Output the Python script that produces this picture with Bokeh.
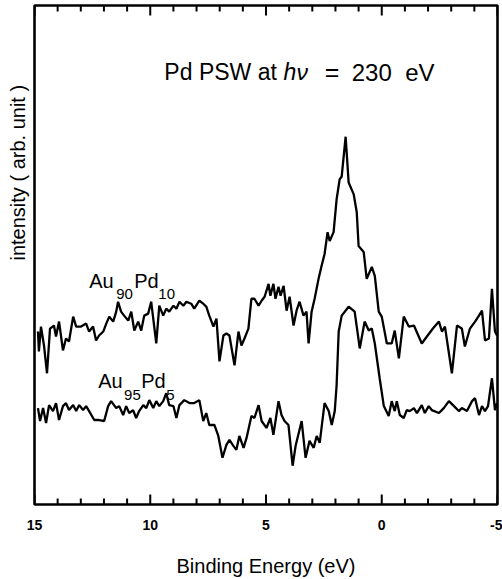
from bokeh.plotting import figure
from bokeh.models import Range1d, FixedTicker, Title
from bokeh.embed import file_html
from bokeh.resources import INLINE
from bokeh.core.properties import value

# Binding energy (eV) and intensity (arb. unit)
energy_90 = [14.85, 14.81, 14.72, 14.59, 14.46, 14.33, 14.16, 14.07, 13.94, 13.77, 13.64, 13.51,
             13.33, 13.20, 12.99, 12.77, 12.64, 12.47, 12.34, 12.21, 12.03, 11.90, 11.77, 11.60,
             11.47, 11.39, 11.26, 11.13, 10.95, 10.82, 10.69, 10.52, 10.39, 10.26, 10.09, 9.96,
             9.74, 9.61, 9.44, 9.31, 9.18, 9.00, 8.87, 8.74, 8.57, 8.44, 8.23, 8.10, 7.88, 7.71,
             7.58, 7.45, 7.27, 7.14, 7.01, 6.84, 6.71, 6.58, 6.36, 6.19, 6.06, 5.93, 5.76, 5.63,
             5.50, 5.32, 5.19, 5.06, 4.89, 4.81, 4.68, 4.59, 4.46, 4.37, 4.24, 4.11, 3.98, 3.81,
             3.68, 3.55, 3.38, 3.25, 3.16, 3.03, 2.90, 2.73, 2.60, 2.47, 2.34, 2.25, 2.08, 1.95,
             1.82, 1.73, 1.56, 1.43, 1.21, 1.08, 1.00, 0.78, 0.65, 0.43, 0.30, 0.13, 0.00, -0.22,
             -0.43, -0.56, -0.74, -0.95, -1.17, -1.39, -1.73, -1.95, -2.21, -2.47, -2.60, -2.73,
             -3.03, -3.25, -3.46, -3.59, -3.81, -4.03, -4.20, -4.33, -4.46, -4.63, -4.76, -4.89,
             -4.98]
intensity_90 = [1.74, 1.54, 1.79, 1.60, 1.32, 1.77, 1.80, 1.69, 1.84, 1.55, 1.67, 1.64,
                1.89, 1.79, 1.79, 1.82, 1.74, 1.79, 1.65, 1.70, 1.74, 1.82, 1.89, 1.84,
                1.94, 2.04, 1.94, 1.90, 1.85, 1.94, 1.75, 1.84, 1.75, 1.90, 1.92, 2.04,
                1.62, 2.00, 1.90, 1.97, 1.94, 2.00, 1.97, 2.04, 2.00, 2.04, 2.02, 1.97, 2.05, 2.02,
                1.99, 1.90, 1.79, 1.87, 1.44, 1.70, 1.72, 1.70, 1.40, 1.74, 1.60, 1.67, 1.77, 2.07,
                2.07, 2.00, 2.05, 2.09, 2.22, 2.10, 2.22, 2.07, 2.19, 2.10, 2.20, 1.95, 2.09, 1.80,
                1.95, 2.04, 1.90, 1.94, 1.62, 1.94, 2.07, 2.27, 2.40, 2.52, 2.74, 2.65, 2.74, 3.07,
                3.27, 3.30, 3.70, 3.24, 3.12, 2.94, 2.60, 2.54, 2.27, 2.39, 2.30, 1.94, 1.89, 1.62,
                1.62, 1.75, 1.47, 1.89, 1.79, 1.80, 1.62, 1.69, 1.77, 1.84, 1.74, 1.79,
                1.32, 1.80, 1.77, 1.59, 1.77, 1.84, 1.90, 1.95, 1.65, 1.67, 2.17, 1.74,
                1.70]

energy_95 = [14.85, 14.76, 14.63, 14.50, 14.37, 14.20, 14.07, 13.94, 13.77, 13.64, 13.51, 13.33,
             13.20, 13.07, 12.90, 12.77, 12.64, 12.42, 12.21, 11.99, 11.82, 11.69, 11.47, 11.34,
             11.17, 11.04, 10.91, 10.74, 10.61, 10.48, 10.30, 10.17, 10.04, 9.87, 9.74, 9.61,
             9.44, 9.31, 9.18, 9.00, 8.87, 8.74, 8.53, 8.31, 8.10, 7.88, 7.71, 7.58, 7.45, 7.23,
             7.06, 6.88, 6.71, 6.58, 6.41, 6.28, 6.15, 5.97, 5.84, 5.63, 5.50, 5.32, 5.19, 4.98,
             4.81, 4.68, 4.46, 4.33, 4.20, 4.03, 3.85, 3.72, 3.46, 3.29, 3.12, 2.94, 2.81, 2.68,
             2.47, 2.29, 2.16, 2.03, 1.95, 1.86, 1.73, 1.43, 1.17, 0.95, 0.74, 0.56, 0.43, 0.30,
             0.09, -0.09, -0.30, -0.43, -0.56, -0.65, -0.78, -0.95, -1.08, -1.21, -1.39, -1.52,
             -1.73, -1.86, -2.03, -2.16, -2.47, -2.68, -2.90, -3.12, -3.33, -3.46, -3.68, -3.90,
             -4.03, -4.20, -4.33, -4.46, -4.59, -4.76, -4.89, -4.98]
intensity_95 = [0.97, 0.84, 0.97, 0.82, 1.00, 0.94, 1.02, 0.85, 0.99, 1.02, 0.95, 1.00,
                0.94, 1.00, 0.95, 0.99, 0.94, 0.85, 0.85, 0.84, 0.99, 1.04, 0.97, 0.99,
                0.90, 0.99, 0.92, 0.95, 0.87, 0.94, 1.00, 0.97, 1.05, 0.97, 1.04, 0.99,
                1.04, 1.12, 1.00, 0.99, 0.87, 1.00, 1.05, 1.02, 1.02, 1.05, 0.84, 0.92, 0.80, 0.80,
                0.69, 0.47, 0.60, 0.65, 0.59, 0.55, 0.69, 0.57, 0.67, 0.89, 0.87, 1.00, 0.84, 0.77,
                0.87, 0.70, 1.04, 0.90, 0.84, 0.80, 0.39, 0.59, 0.84, 0.47, 0.64, 0.57, 0.69, 0.62,
                1.02, 0.94, 0.80, 0.94, 1.20, 1.74, 1.90, 1.99, 1.94, 1.57, 1.84, 1.75, 1.77, 1.62,
                1.27, 0.99, 0.89, 1.04, 0.94, 1.04, 0.90, 0.87, 0.95, 0.94, 0.97, 0.92,
                1.00, 0.92, 0.99, 0.95, 0.92, 0.97, 1.04, 0.99, 0.94, 0.97, 0.94, 1.04,
                1.07, 0.90, 0.99, 0.94, 0.99, 1.27, 0.95, 1.02]

major_ticks = [15, 10, 5, 0, -5]
minor_ticks = [t for t in range(-5, 16) if t % 5 != 0]
tick_labels = {15: "15", 10: "10", 5: "5", 0: "0", -5: "-5"}

FONT = "Liberation Sans"
Y_LO, Y_HI = 0.0, 5.02
MAJOR_LEN, MINOR_LEN = 0.10, 0.06   # inward tick lengths (intensity units)

p = figure(width=502, height=579, output_backend="svg", toolbar_location=None,
           x_range=Range1d(15, -5), y_range=Range1d(Y_LO, Y_HI),
           min_border_left=34, min_border_right=5, min_border_top=5, min_border_bottom=72)
p.background_fill_color = "white"
p.border_fill_color = "white"
p.grid.visible = False
p.outline_line_color = "black"
p.outline_line_width = 2.6
p.yaxis.visible = False

xa = p.xaxis[0]
xa.ticker = FixedTicker(ticks=major_ticks)
xa.axis_line_color = None
xa.major_tick_line_color = None
xa.minor_tick_line_color = None
xa.major_label_overrides = tick_labels
xa.major_label_text_font = FONT
xa.major_label_text_font_style = "bold"
xa.major_label_text_font_size = "14px"
xa.major_label_text_color = "black"
xa.major_label_standoff = 9
xa.axis_label = "Binding Energy (eV)"
xa.axis_label_text_font = FONT
xa.axis_label_text_font_style = "normal"
xa.axis_label_text_font_size = "20px"
xa.axis_label_text_color = "black"
xa.axis_label_standoff = 22

# y axis title, placed like the reference (upper part of the left side)
ytitle = Title(text="intensity ( arb. unit )", align="left", offset=244, standoff=8,
               vertical_align="top", text_font=FONT, text_font_size="20px",
               text_font_style="normal", text_color="black")
p.add_layout(ytitle, "left")

# inward ticks on bottom and top edges
for ticks, length in ((major_ticks, MAJOR_LEN), (minor_ticks, MINOR_LEN)):
    n = len(ticks)
    p.segment(x0=ticks, x1=ticks, y0=[Y_LO] * n, y1=[Y_LO + length] * n,
              line_color="black", line_width=2)
    p.segment(x0=ticks, x1=ticks, y0=[Y_HI] * n, y1=[Y_HI - length] * n,
              line_color="black", line_width=2)

p.line(energy_90, intensity_90, line_color="black", line_width=2.3)
p.line(energy_95, intensity_95, line_color="black", line_width=2.3)

def txt(x, y, s, size, style="normal", align="left"):
    p.text(x=[x], y=[y], text=[s], text_font=value(FONT), text_font_size=size,
           text_font_style=style, text_align=align, text_baseline="alphabetic",
           text_color="black")

# title inside the plot
txt(9.39, 4.35, "Pd PSW at", "23px")
txt(4.24, 4.35, "hν", "23px", style="italic")
txt(2.15, 4.35, "=", "25px", align="center")
txt(0.43, 4.35, "230", "24px", align="center")
txt(-1.65, 4.35, "eV", "24px", align="center")

# series labels
txt(12.64, 2.25, "Au", "20px")
txt(11.47, 2.12, "90", "15px")
txt(10.69, 2.25, "Pd", "20px")
txt(9.65, 2.12, "10", "15px")

txt(12.25, 1.24, "Au", "20px")
txt(11.13, 1.10, "95", "15px")
txt(10.39, 1.24, "Pd", "20px")
txt(9.31, 1.10, "5", "15px")

open("out.html", "w").write(file_html(p, INLINE))
